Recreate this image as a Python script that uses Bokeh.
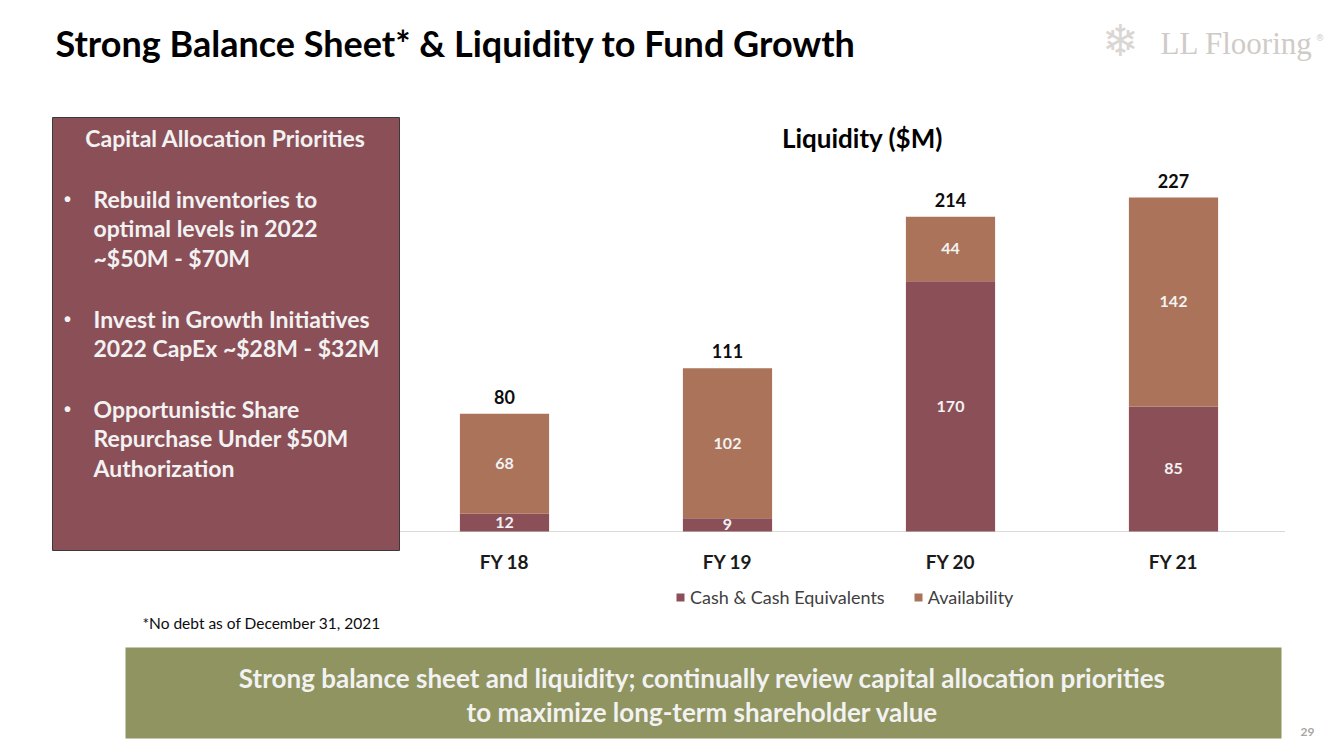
from bokeh.plotting import figure
from bokeh.models import (Range1d, Label, BoxAnnotation, Legend, LegendItem,
                          ColumnDataSource)
from bokeh.core.properties import value
from bokeh.embed import file_html
from bokeh.resources import INLINE

# ---------------- data ----------------
categories = ["FY 18", "FY 19", "FY 20", "FY 21"]
cash = [12, 9, 170, 85]
availability = [68, 102, 44, 142]
totals = [80, 111, 214, 227]
series_names = ["Cash & Cash Equivalents", "Availability"]

title_text = "Strong Balance Sheet* & Liquidity to Fund Growth"
chart_title = "Liquidity ($M)"
box_header = "Capital Allocation Priorities"
box_bullets = [
    ["Rebuild inventories to", "optimal levels in 2022", "~$50M - $70M"],
    ["Invest in Growth Initiatives", "2022 CapEx ~$28M - $32M"],
    ["Opportunistic Share", "Repurchase Under $50M", "Authorization"],
]
footnote = "*No debt as of December 31, 2021"
banner_lines = ["Strong balance sheet and liquidity; continually review capital allocation priorities",
                "to maximize long-term shareholder value"]
page_number = "29"

# ---------------- style / layout ----------------
CASH_COLOR = "#8B4F58"
AVAIL_COLOR = "#AB7359"
BANNER_COLOR = "#8F9460"
LIGHT_TEXT = "#F2F2F2"
FONT = "Lato"

W, H = 1333, 749          # canvas == frame
PLOT_LEFT = 392.5         # left edge of first category band (px)
BAND = 223.0              # px per category
BASE_Y = 531.0            # baseline (px from top)
PX_PER_UNIT = 334 / 227.0 # px per $M

x_start = -PLOT_LEFT / BAND
x_end = x_start + W / BAND
y_start = -(H - BASE_Y) / PX_PER_UNIT
y_end = BASE_Y / PX_PER_UNIT

p = figure(x_range=Range1d(x_start, x_end), y_range=Range1d(y_start, y_end),
           width=W, height=H, output_backend="svg", toolbar_location=None,
           x_axis_location=None, y_axis_location=None,
           min_border=0, min_border_left=0, min_border_right=0,
           min_border_top=0, min_border_bottom=0)
p.outline_line_color = None
p.xgrid.visible = False
p.ygrid.visible = False
p.background_fill_color = "white"
p.border_fill_color = "white"

xpos = [i + 0.5 for i in range(len(categories))]
src = ColumnDataSource(dict(
    x=xpos, cat=categories, cash=cash, avail=availability, total=totals,
    zero=[0] * len(categories),
    cash_mid=[c / 2 for c in cash],
    avail_mid=[c + a / 2 for c, a in zip(cash, availability)],
    cash_txt=[str(v) for v in cash],
    avail_txt=[str(v) for v in availability],
    total_txt=[str(v) for v in totals],
))

# axis baseline across the category bands
p.segment(x0=[0], y0=[0], x1=[len(categories)], y1=[0], line_color="#D9D9D9", line_width=1)

rs = p.vbar_stack(["cash", "avail"], x="x", width=0.4, color=[CASH_COLOR, AVAIL_COLOR],
                  line_color=None, source=src)

common = dict(text_font=value(FONT), text_font_style="bold", text_align="center",
              text_baseline="middle", source=src)
p.text(x="x", y="cash_mid", text="cash_txt", text_color=LIGHT_TEXT,
       text_font_size="16px", **common)
p.text(x="x", y="avail_mid", text="avail_txt", text_color=LIGHT_TEXT,
       text_font_size="16px", **common)
p.text(x="x", y="total", text="total_txt", text_color="#0D0D0D",
       text_font_size="18px", y_offset=-17, **common)
# category (axis) labels
p.text(x="x", y="zero", text="cat", text_color="#1A1A1A",
       text_font_size="19px", y_offset=30, **common)

legend = Legend(items=[LegendItem(label=series_names[0], renderers=[rs[0]]),
                       LegendItem(label=series_names[1], renderers=[rs[1]])],
                orientation="horizontal", location=(675, H - 608),
                glyph_width=10, glyph_height=10, label_height=20,
                label_text_font=FONT, label_text_font_size="18px",
                label_text_color="#404040", spacing=28, padding=0, margin=0,
                label_standoff=5, border_line_color=None, background_fill_alpha=0)
p.add_layout(legend, "center")


def label(text, px, py, size, bold=False, color="#000000", align="left",
          font=FONT, baseline="middle"):
    p.add_layout(Label(x=px, y=H - py, x_units="screen", y_units="screen",
                       text=text, text_font=font, text_font_size=f"{size}px",
                       text_font_style="bold" if bold else "normal",
                       text_color=color, text_align=align, text_baseline=baseline))


def box(l, t, r, b, fill, line=None):
    p.add_layout(BoxAnnotation(left=l, right=r, top=H - t, bottom=H - b,
                               left_units="screen", right_units="screen",
                               top_units="screen", bottom_units="screen",
                               fill_color=fill, fill_alpha=1.0,
                               line_color=line, line_width=1,
                               line_alpha=1.0 if line else 0.0))


# slide title
label(title_text, 55, 42, 36, bold=True, color="#000000")
# logo
label("\u2744", 1120, 40, 44, color="#D9D6D3", align="center", font="DejaVu Sans")
label("LL Flooring", 1160, 43, 31, color="#CFCBC7", font="Liberation Serif")
label("\u00ae", 1315, 37, 9, color="#CFCBC7", font="DejaVu Sans")

# chart title
label(chart_title, 862, 137, 26, bold=True, color="#000000", align="center")

# left priorities box
box(52, 117, 399, 550, CASH_COLOR, line="#3A3A3A")
label(box_header, 225, 137, 23, bold=True, color=LIGHT_TEXT, align="center")
bullet_y = [198, 318, 408]
line_step = 29.5
for by, lines in zip(bullet_y, box_bullets):
    label("\u2022", 67, by, 20, bold=True, color=LIGHT_TEXT, align="center",
          font="Liberation Sans")
    for i, ln in enumerate(lines):
        label(ln, 93, by + i * line_step, 23, bold=True, color=LIGHT_TEXT)

# footnote
label(footnote, 142, 622, 15.5, color="#0D0D0D")

# banner
box(125, 647, 1281, 738, BANNER_COLOR)
label(banner_lines[0], 702, 677, 26, bold=True, color=LIGHT_TEXT, align="center")
label(banner_lines[1], 702, 711, 26, bold=True, color=LIGHT_TEXT, align="center")

# page number
label(page_number, 1307, 731, 12, bold=True, color="#A6A6A6", align="center")

open("out.html", "w").write(file_html(p, INLINE))
